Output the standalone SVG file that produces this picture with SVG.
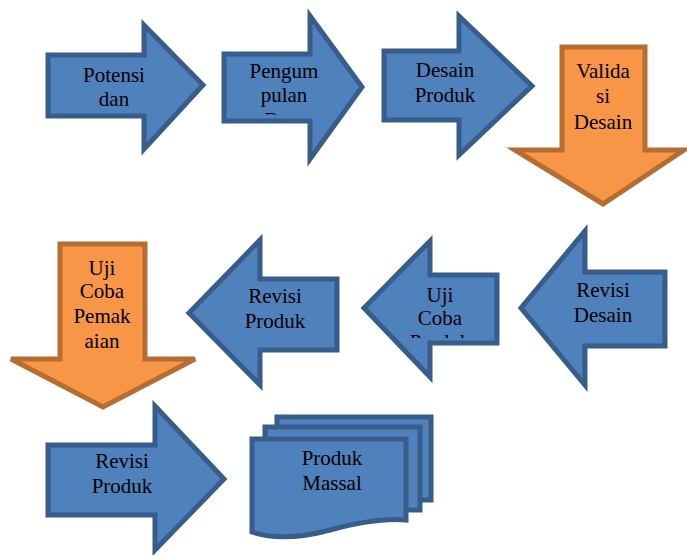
<svg xmlns="http://www.w3.org/2000/svg" width="687" height="555" viewBox="0 0 687 555">
<style>
.b{fill:#4F81BD;stroke:#385D8A;stroke-width:5;stroke-linejoin:miter}
.o{fill:#F79646;stroke:#B66D31;stroke-width:5;stroke-linejoin:miter}
text{font-family:"Liberation Serif","Times New Roman",serif;font-size:21px;fill:#000;text-anchor:middle}
</style>
<defs>
<clipPath id="c2"><rect x="220" y="40" width="100" height="74.5"/></clipPath>
<clipPath id="c6"><rect x="400" y="270" width="90" height="68"/></clipPath>
</defs>
<rect width="687" height="555" fill="#fff"/>
<g id="n1">
<path class="b" d="M48,55 H144 V25 L203,85 L144,149 V116 H48 Z"/>
<text x="114" y="82">Potensi</text><text x="114" y="106">dan</text>
</g>
<g id="n2">
<path class="b" d="M224,54 H310 V16 L362,87 L310,159 V121 H224 Z"/>
<text x="284" y="78">Pengum</text><text x="284" y="102">pulan</text>
<text x="284" y="127" clip-path="url(#c2)">Data</text>
</g>
<g id="n3">
<path class="b" d="M384,51 H459 V16 L532,86 L459,155 V120 H384 Z"/>
<text x="445" y="77">Desain</text><text x="445" y="102">Produk</text>
</g>
<g id="n4">
<path class="o" d="M562,47 H645 V150 H684 L603,204 L515,150 H562 Z"/>
<text x="603" y="78">Valida</text><text x="603" y="103">si</text><text x="603" y="129">Desain</text>
</g>
<g id="n5">
<path class="b" d="M665,272 H585 V231 L521,308 L585,385 V346 H665 Z"/>
<text x="603" y="297">Revisi</text><text x="603" y="322">Desain</text>
</g>
<g id="n6">
<path class="b" d="M497,275 H430 V241 L364,308 L430,377 V343 H497 Z"/>
<text x="440" y="302">Uji</text><text x="440" y="325">Coba</text>
<text x="440" y="349" clip-path="url(#c6)">Produk</text>
</g>
<g id="n7">
<path class="b" d="M337,279 H260 V240 L189,313 L260,385 V350 H337 Z"/>
<text x="275" y="303">Revisi</text><text x="275" y="328">Produk</text>
</g>
<g id="n8">
<path class="o" d="M60,244 H145 V359 H195 L103,407 L11,359 H60 Z"/>
<text x="102" y="275">Uji</text><text x="102" y="298">Coba</text><text x="102" y="323">Pemak</text><text x="102" y="348">aian</text>
</g>
<g id="n9">
<path class="b" d="M48,445 H155 V406 L224,479 L155,550 V515 H48 Z"/>
<text x="122" y="468">Revisi</text><text x="122" y="493">Produk</text>
</g>
<g id="n10">
<rect class="b" x="277" y="417" width="154" height="83"/>
<rect class="b" x="265" y="427" width="155" height="83"/>
<path class="b" d="M252,439 H406 V520 C385,518 360,522 330,530 C300,538 275,540 252,532 Z"/>
<text x="332" y="465">Produk</text><text x="332" y="490">Massal</text>
</g>
<g id="connectors"/>
</svg>
